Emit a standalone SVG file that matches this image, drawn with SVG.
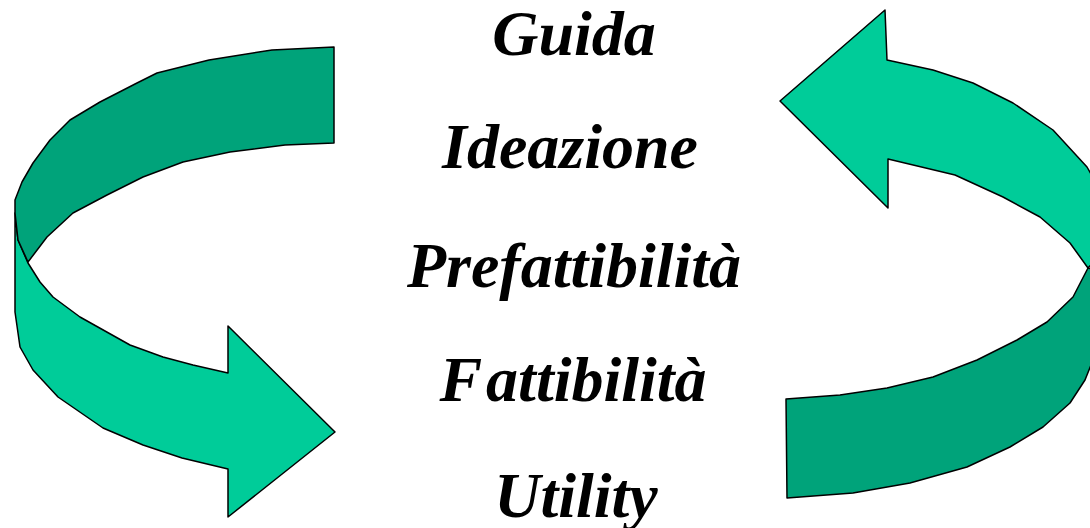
<svg xmlns="http://www.w3.org/2000/svg" width="1090" height="528" viewBox="0 0 1090 528">
<style>
.lt{fill:#00CC99;stroke:#000;stroke-width:1.5;stroke-linejoin:round}
.dk{fill:#00A37A;stroke:#000;stroke-width:1.5;stroke-linejoin:round}
.t{font-family:"Liberation Serif","Times New Roman",serif;font-weight:bold;font-style:italic;font-size:64px;fill:#000;text-anchor:middle}
</style>
<rect width="1090" height="528" fill="#fff"/>
<g id="connectors">
<g id="left-arrow">
<path class="lt" d="M15,213 L15,312 L20,347 L33,370 L58,397 L103,428 L143,445 L182,458 L228,469 L228,517 L335,432 L228,326 L228,373 L193,365 L163,357 L130,345 L80,317 L53,297 L40,282 L28,263 L18,240 Z"/>
<path class="dk" d="M334,47 L272,50 L209,60 L157,73 L137,83 L100,102 L70,120 L50,140 L33,163 L22,182 L15,200 L15,213 L18,240 L28,262 L47,237 L73,213 L107,195 L143,177 L183,162 L230,152 L285,145 L334,143 Z"/>
</g>
<g id="right-arrow">
<path class="dk" d="M1088,268 L1073,297 L1047,322 L1017,340 L977,360 L933,377 L887,388 L840,395 L786,399 L787,498 L853,493 L910,483 L967,467 L1010,447 L1043,427 L1070,403 L1085,380 L1095,355 L1095,270 Z"/>
<path class="lt" d="M780,101 L885,10 L887,60 L933,70 L973,83 L1013,103 L1053,130 L1087,167 L1100,190 L1100,255 L1088,268 L1070,243 L1040,217 L1003,197 L955,175 L888,159 L888,208 Z"/>
</g>
</g>
<g id="n-guida"><text class="t" x="574" y="55">Guida</text></g>
<g id="n-ideazione"><text class="t" x="570" y="168">Ideazione</text></g>
<g id="n-prefattibilita"><text class="t" x="574" y="287">Prefattibilità</text></g>
<g id="n-fattibilita"><text class="t" x="573" y="401">F<tspan dx="4">attibilità</tspan></text></g>
<g id="n-utility"><text class="t" x="576" y="517">Utility</text></g>
</svg>
